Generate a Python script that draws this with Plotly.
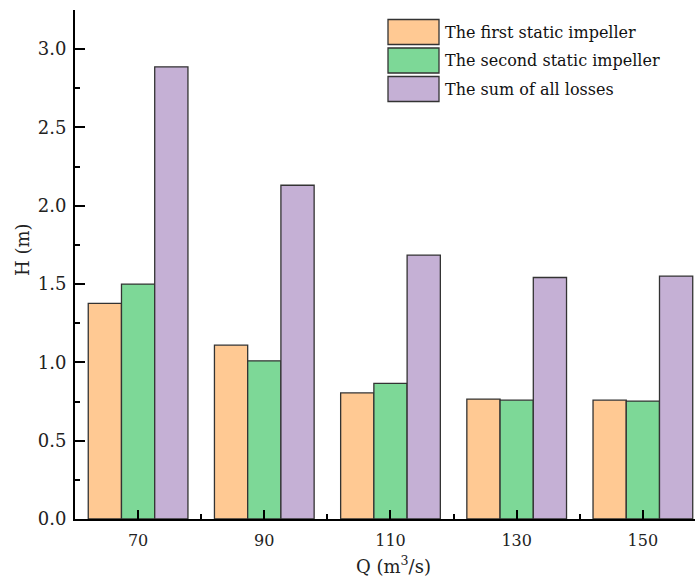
import plotly.graph_objects as go

categories = [70, 90, 110, 130, 150]
first_impeller = [1.377, 1.110, 0.805, 0.766, 0.759]
second_impeller = [1.500, 1.010, 0.866, 0.759, 0.753]
sum_losses = [2.887, 2.131, 1.685, 1.542, 1.551]
series_names = ["The first static impeller", "The second static impeller", "The sum of all losses"]
colors = ["#FFC993", "#7DD897", "#C5B0D5"]

FONT = "DejaVu Serif"
W, H = 695, 580
L, R, T, B = 75, 0, 10, 61

fig = go.Figure()
for name, vals, col in zip(series_names, [first_impeller, second_impeller, sum_losses], colors):
    fig.add_trace(go.Bar(x=categories, y=vals, name=name,
                         marker=dict(color=col, line=dict(color="#333333", width=1.3)),
                         showlegend=False))

fig.update_layout(
    width=W, height=H,
    margin=dict(l=L, r=R, t=T, b=B, pad=0),
    paper_bgcolor="white", plot_bgcolor="white",
    barmode="group", bargap=0.21, bargroupgap=0,
    font=dict(family=FONT, size=18, color="#222222"),
)
fig.update_xaxes(
    range=[60, 158.26], tickmode="linear", tick0=70, dtick=20,
    showline=True, linecolor="black", linewidth=2, showgrid=False, zeroline=False,
    ticks="inside", ticklen=9, tickwidth=2, tickcolor="black",
    minor=dict(tick0=60, dtick=20, ticks="inside", ticklen=5, tickwidth=2, tickcolor="black", showgrid=False),
    tickfont=dict(family=FONT, size=16, color="#222222"), ticklabelstandoff=6,
)
fig.update_yaxes(
    range=[0, 3.25], tickmode="linear", tick0=0, dtick=0.5, tickformat=".1f",
    showline=True, linecolor="black", linewidth=2, showgrid=False, zeroline=False,
    ticks="inside", ticklen=10, tickwidth=2, tickcolor="black",
    minor=dict(tick0=0.25, dtick=0.5, ticks="inside", ticklen=5, tickwidth=2, tickcolor="black", showgrid=False),
    tickfont=dict(family=FONT, size=18, color="#222222"), ticklabelstandoff=3,
)

pw = W - L - R
ph = H - T - B
def px_x(x): return (x - L) / pw
def px_y(y): return (H - B - y) / ph

fig.add_annotation(text="H (m)", xref="paper", yref="paper", x=px_x(22), y=px_y(250), showarrow=False,
                   textangle=-90, font=dict(family=FONT, size=18, color="#222222"),
                   xanchor="center", yanchor="middle")
fig.add_annotation(text="Q (m<sup>3</sup>/s)", xref="paper", yref="paper", x=px_x(393), y=px_y(565),
                   showarrow=False, font=dict(family=FONT, size=18, color="#222222"),
                   xanchor="center", yanchor="middle")

for i, (name, col) in enumerate(zip(series_names, colors)):
    yc = 32 + i * 28.5
    fig.add_shape(type="rect", xref="paper", yref="paper", x0=px_x(388), x1=px_x(439),
                  y0=px_y(yc + 12.5), y1=px_y(yc - 12.5), fillcolor=col,
                  line=dict(color="#333333", width=1.3))
    fig.add_annotation(text=name, xref="paper", yref="paper", x=px_x(443), y=px_y(yc), showarrow=False,
                       xanchor="left", yanchor="middle", font=dict(family=FONT, size=16, color="#111111"))

fig.write_html("out.html")
